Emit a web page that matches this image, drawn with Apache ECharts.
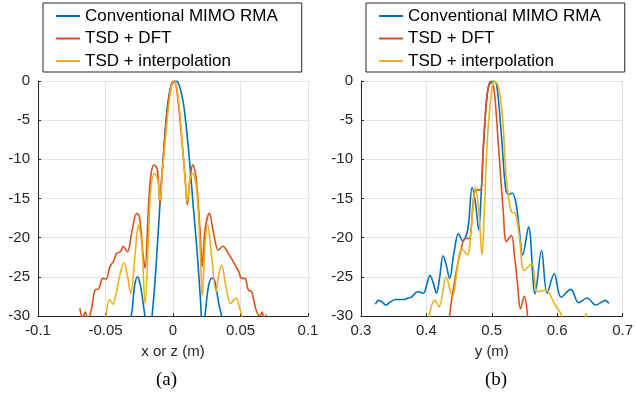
<!DOCTYPE html>
<html>
<head>
<meta charset="utf-8">
<script src="https://cdn.jsdelivr.net/npm/echarts@6/dist/echarts.min.js"></script>
<style>html,body{margin:0;padding:0;background:#fff}#c{width:636px;height:394px}</style>
</head>
<body>
<div id="c"></div>
<script>
// ---------- data: panel (a) ----------
var seriesNames = ['Conventional MIMO RMA', 'TSD + DFT', 'TSD + interpolation'];
var xTicksA = [-0.1, -0.05, 0, 0.05, 0.1];
var xTicksB = [0.3, 0.4, 0.5, 0.6, 0.7];
var yTicks = [0, -5, -10, -15, -20, -25, -30];

var blueXA = [-0.038,-0.031,-0.0285,-0.0264,-0.0245,-0.022,-0.0205,-0.0178,-0.0155,-0.0135,-0.0121,-0.0096,-0.0072,-0.0047,-0.0022,0.0,0.002,0.0045,0.0077,0.0102,0.0126,0.015,0.0175,0.019,0.0202,0.022,0.0237,0.026,0.0285,0.030,0.032,0.034,0.036,0.040];
var blueYA = [-34,-30,-26.2,-25,-25.8,-28.5,-30.5,-34,-30,-26,-22.4,-15.6,-9.7,-4.1,-1.1,-0.2,0,-0.5,-2.85,-6.5,-10.9,-16,-21,-24.5,-27.5,-32,-30,-26.5,-25.2,-25.2,-26.5,-28.5,-30,-34];

var redXA = [-0.069,-0.067,-0.065,-0.063,-0.0605,-0.0578,-0.055,-0.052,-0.0496,-0.0467,-0.044,-0.0417,-0.039,-0.0368,-0.0338,-0.0306,-0.0269,-0.0249,-0.022,-0.0207,-0.0183,-0.0165,-0.0141,-0.0116,-0.0096,-0.0084,-0.0059,-0.0035,-0.001,0.0005,0.0025,0.0052,0.0089,0.0106,0.0126,0.0146,0.017,0.020,0.0217,0.0237,0.027,0.0296,0.0336,0.0368,0.041,0.0447,0.0484,0.0509,0.0533,0.0558,0.0583,0.0615,0.0644,0.066,0.0675,0.069];
var redYA = [-29,-30.2,-29.5,-30.5,-29.2,-26.7,-26.5,-25.2,-25.3,-23.7,-23,-22,-21.8,-21.1,-21.8,-19.4,-16.9,-17.3,-22.4,-23.9,-16.5,-12.2,-10.7,-11.3,-15.8,-12.5,-7.1,-2.8,-0.3,0,-0.8,-5,-12.2,-15.8,-12.5,-10.7,-12.2,-19,-23.7,-19,-16.9,-19,-21.6,-21.1,-22,-23.1,-24.2,-25.2,-25.2,-26.7,-26.9,-29.2,-30,-29.5,-30.5,-29.8];

var yellowXA = [-0.0505,-0.0496,-0.047,-0.0445,-0.042,-0.039,-0.0363,-0.0338,-0.0313,-0.028,-0.0257,-0.0232,-0.0207,-0.0183,-0.0165,-0.0138,-0.0114,-0.0096,-0.0077,-0.0054,-0.0022,0.0007,0.003,0.0055,0.0089,0.0106,0.0126,0.0146,0.0175,0.020,0.0217,0.0237,0.0257,0.0286,0.0319,0.0336,0.036,0.0393,0.0427,0.0467,0.0491,0.0509,0.052];
var yellowYA = [-32,-30,-27.9,-28.5,-27,-24.5,-23.2,-24.8,-27.1,-22,-18.4,-20.7,-28.4,-20.7,-13.9,-11.8,-12.5,-15.2,-11.3,-7.1,-1.8,0,-1,-5,-12.5,-15.4,-12.5,-11.8,-13.9,-21,-27.5,-21,-18.4,-22.4,-26.9,-25,-23.5,-26.3,-28.4,-27.7,-28.8,-30,-32];

// ---------- data: panel (b) ----------
var blueXB = [0.322,0.327,0.332,0.338,0.345,0.353,0.36,0.366,0.372,0.377,0.3866,0.3955,0.4005,0.4055,0.4105,0.4154,0.4204,0.4254,0.4304,0.4354,0.442,0.449,0.4555,0.4632,0.470,0.4751,0.480,0.4836,0.4886,0.495,0.5025,0.5075,0.5149,0.5214,0.5264,0.5313,0.537,0.542,0.5473,0.5562,0.5662,0.5761,0.5846,0.5955,0.606,0.6209,0.6328,0.6458,0.6592,0.674,0.679];
var blueYB = [-28.5,-28.0,-28.2,-28.6,-28.2,-27.9,-27.9,-27.9,-27.7,-27.6,-26.9,-27.1,-26,-24.8,-25.8,-27.1,-25,-22.3,-23.5,-25.2,-22,-19.5,-20.4,-19,-13.6,-15.6,-19,-14.7,-6.3,-0.7,0,-0.5,-7.1,-13.9,-14.5,-14.3,-15.6,-19,-22.2,-18.6,-27.2,-21.6,-27.1,-24.6,-27.6,-26.6,-28.3,-27.7,-28.6,-28.0,-28.4];

var redXB = [0.432,0.4354,0.4443,0.4527,0.4592,0.4652,0.4727,0.4766,0.4826,0.4866,0.4925,0.4985,0.5035,0.51,0.5174,0.5224,0.5299,0.5348,0.5398,0.5438,0.5497,0.5547,0.558];
var redYB = [-34,-30,-25,-21.6,-20.1,-20.1,-14.6,-13.9,-13.9,-9.2,-2,0,-1.1,-8,-16.5,-20.5,-19.7,-22.4,-26.3,-29.1,-27.5,-30,-34];

var yellowXB = [0.401,0.4045,0.413,0.4194,0.4303,0.4393,0.4542,0.4627,0.470,0.4751,0.48,0.4851,0.4886,0.4935,0.4999,0.5035,0.51,0.5164,0.5224,0.5299,0.5363,0.5423,0.5497,0.5612,0.5697,0.5821,0.597,0.607,0.612,0.642,0.644,0.646];
var yellowYB = [-34,-30,-28,-28.8,-25,-27.5,-21.4,-22.2,-17.3,-13.5,-16.5,-22.2,-16.5,-7.1,-1.1,0,-0.7,-4.6,-12.6,-16.7,-16.9,-19.9,-24.2,-23.3,-26.9,-26.7,-28.6,-30,-33,-30.6,-29.7,-30.6];

var colors = ['#0072BD', '#D95319', '#EDB120'];

function pairs(xs, ys) { return xs.map(function (x, i) { return [x, ys[i]]; }); }

var FONT = 'Liberation Sans, Arial, Helvetica, sans-serif';
var axisColor = '#262626';
var gridColor = '#e3e3e3';

function xAxisDef(idx, ticks, name) {
  return {
    type: 'value', gridIndex: idx,
    min: ticks[0], max: ticks[ticks.length - 1], interval: ticks[1] - ticks[0],
    name: name, nameLocation: 'middle', nameGap: 28,
    nameTextStyle: { fontFamily: FONT, fontSize: 15, color: axisColor },
    axisLine: { show: true, onZero: false, lineStyle: { color: axisColor, width: 1 } },
    axisTick: { show: true, inside: true, length: 3, lineStyle: { color: axisColor } },
    axisLabel: { margin: 7, fontFamily: FONT, fontSize: 15, color: axisColor,
      formatter: function (v) { return String(Math.round(v * 1000) / 1000); } },
    splitLine: { show: true, lineStyle: { color: gridColor, width: 1 } }
  };
}
function yAxisDef(idx) {
  return {
    type: 'value', gridIndex: idx, min: yTicks[yTicks.length - 1], max: yTicks[0], interval: 5,
    axisLine: { show: true, onZero: false, lineStyle: { color: axisColor, width: 1 } },
    axisTick: { show: true, inside: true, length: 3, lineStyle: { color: axisColor } },
    axisLabel: { margin: 8, fontFamily: FONT, fontSize: 15, color: axisColor },
    splitLine: { show: true, lineStyle: { color: gridColor, width: 1 } }
  };
}
function lineSeries(name, ci, xi, data) {
  return {
    name: name, type: 'line', xAxisIndex: xi, yAxisIndex: xi, data: data,
    showSymbol: false, symbol: 'none', smooth: 0.35, clip: true,
    lineStyle: { color: colors[ci], width: 1.6 }, itemStyle: { color: colors[ci] },
    emphasis: { disabled: true }, animation: false
  };
}
function legendDef(left) {
  return {
    left: left, top: 3, orient: 'vertical',
    data: seriesNames, icon: 'rect', itemWidth: 24, itemHeight: 2, itemGap: 2.5,
    padding: [3, 24, 1, 13],
    borderColor: axisColor, borderWidth: 1, backgroundColor: '#fff',
    selectedMode: false,
    textStyle: { fontFamily: FONT, fontSize: 17, color: '#000', lineHeight: 20 }
  };
}

var chart = echarts.init(document.getElementById('c'), null, { renderer: 'canvas' });
chart.setOption({
  animation: false,
  color: colors,
  grid: [
    { left: 38, top: 81, width: 270, height: 235, containLabel: false },
    { left: 361, top: 81, width: 268, height: 235, containLabel: false }
  ],
  xAxis: [xAxisDef(0, xTicksA, 'x or z (m)'), xAxisDef(1, xTicksB, 'y (m)')],
  yAxis: [yAxisDef(0), yAxisDef(1)],
  legend: [legendDef(43), legendDef(366)],
  graphic: [
    { type: 'text', left: 156, top: 371, style: { text: '(a)', font: '19px "Liberation Serif", "Times New Roman", serif', fill: '#000' } },
    { type: 'text', left: 485, top: 371, style: { text: '(b)', font: '19px "Liberation Serif", "Times New Roman", serif', fill: '#000' } }
  ],
  series: [
    lineSeries(seriesNames[0], 0, 0, pairs(blueXA, blueYA)),
    lineSeries(seriesNames[1], 1, 0, pairs(redXA, redYA)),
    lineSeries(seriesNames[2], 2, 0, pairs(yellowXA, yellowYA)),
    lineSeries(seriesNames[0], 0, 1, pairs(blueXB, blueYB)),
    lineSeries(seriesNames[1], 1, 1, pairs(redXB, redYB)),
    lineSeries(seriesNames[2], 2, 1, pairs(yellowXB, yellowYB))
  ]
});
</script>
</body>
</html>
